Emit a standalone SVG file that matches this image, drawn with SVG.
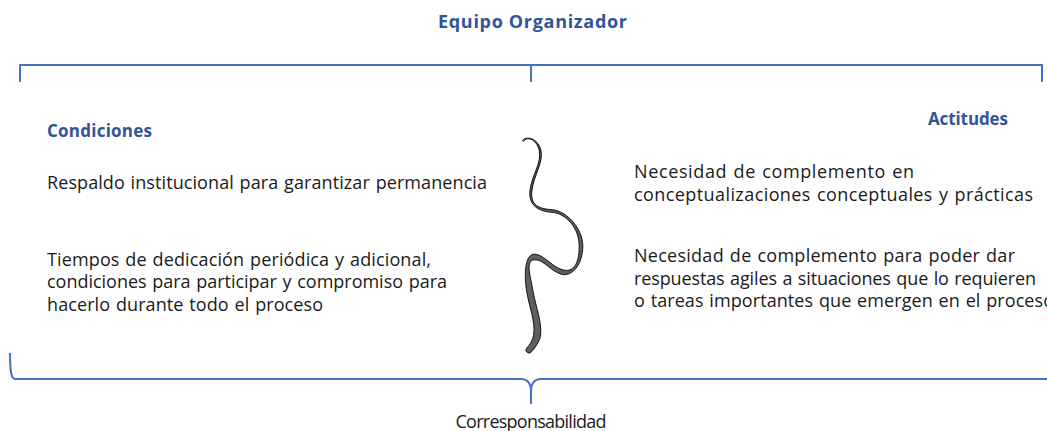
<svg xmlns="http://www.w3.org/2000/svg" width="1047" height="431" viewBox="0 0 1047 431">
<style>
  text { font-family: "Open Sans", "Noto Sans", "Liberation Sans", sans-serif; }
  .head { font-weight: bold; fill: #2F5597; font-size: 17px; }
  .body { fill: #1a1a1a; font-size: 18px; word-spacing: 1px; }
  .brk { fill: none; stroke: #4472C4; stroke-width: 2; }
</style>
<rect width="1047" height="431" fill="#ffffff"/>
<g id="title"><text class="head" x="438" y="28" textLength="189" style="font-size:18px">Equipo Organizador</text></g>
<g id="connectors">
  <path class="brk" d="M20,82 V65 H1042 V82"/>
  <path class="brk" d="M531,65 V82"/>
  <path class="brk" d="M10,353 C10,370 11,379 15,379 H521 Q531,379 531,392 V404 M531,392 Q531,379 541,379 H1047"/>
</g>
<g id="condiciones">
  <text class="head" x="47" y="137" textLength="105">Condiciones</text>
  <text class="body" x="47" y="189" textLength="440">Respaldo institucional para garantizar permanencia</text>
  <text class="body" x="47" y="265.5" textLength="384">Tiempos de dedicación periódica y adicional,</text>
  <text class="body" x="47" y="288" textLength="400">condiciones para participar y compromiso para</text>
  <text class="body" x="47" y="310.5" textLength="276">hacerlo durante todo el proceso</text>
</g>
<g id="actitudes">
  <text class="head" x="928" y="125" textLength="80">Actitudes</text>
  <text class="body" x="634" y="178" textLength="280">Necesidad de complemento en</text>
  <text class="body" x="634" y="201" textLength="399">conceptualizaciones conceptuales y prácticas</text>
  <text class="body" x="634" y="262" textLength="381">Necesidad de complemento para poder dar</text>
  <text class="body" x="634" y="284.5" textLength="402">respuestas agiles a situaciones que lo requieren</text>
  <text class="body" x="634" y="307" textLength="420">o tareas importantes que emergen en el proceso</text>
</g>
<g id="tilde">
  <path fill="#5f5f5f" stroke="#000" stroke-width="0.9" stroke-linejoin="round" d="M523.4,141.3 C526.4,136.3 536.2,138.2 539.2,150.2 C542.2,162.2 532,174.9 530,189.9 C528,204.9 537.9,211.3 551.9,212.3 C565.9,213.3 579.2,228 579.2,246 C579.2,264 573.6,272.8 562.6,269.8 C551.6,266.8 542.7,253.2 533.7,254.2 C524.7,255.2 523.9,275.5 526.9,292.5 C529.9,309.5 535.6,321.5 533.6,335.5 C532.6,340.5 529.6,345.2 526.6,348.2 A3,3 0 0 0 531.4,351.8 C534.4,348.8 539.4,341.5 540.4,336.5 C542.4,322.5 536.1,308.5 533.1,291.5 C530.1,274.5 525.3,260.8 534.3,259.8 C543.3,258.8 550.4,271.2 561.4,274.2 C572.4,277.2 582.8,264 582.8,246 C582.8,228 566.1,210.7 552.1,209.7 C538.1,208.7 530,205.1 532,190.1 C534,175.1 543.8,161.8 540.8,149.8 C537.8,137.8 525.6,135.7 522.6,140.7 Z"/>
</g>
<g id="corresponsabilidad"><text class="body" x="531" y="428" text-anchor="middle" textLength="151">Corresponsabilidad</text></g>
</svg>
